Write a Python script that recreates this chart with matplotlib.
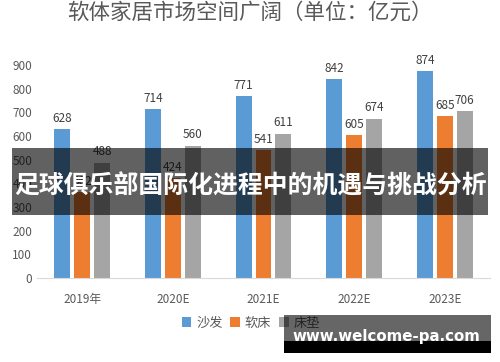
import matplotlib
matplotlib.use("Agg")
import matplotlib.pyplot as plt
import numpy as np
from matplotlib.patches import Rectangle

plt.rcParams['font.family'] = ['Noto Sans CJK SC', 'DejaVu Sans']

years = ["2019年", "2020E", "2021E", "2022E", "2023E"]
sofa = [628, 714, 771, 842, 874]
bed = [362, 424, 541, 605, 685]
mattress = [488, 560, 611, 674, 706]
series_names = ["沙发", "软床", "床垫"]
colors = ["#5B9BD5", "#ED7D31", "#A5A5A5"]

fig = plt.figure(figsize=(5, 3.62), dpi=100)
ax = fig.add_axes([0.074, 0.232, 0.906, 0.588])

x = np.arange(len(years))
w = 0.176
offsets = [-0.22, 0.0, 0.22]
for vals, name, c, off in zip([sofa, bed, mattress], series_names, colors, offsets):
    bars = ax.bar(x + off, vals, w, color=c, label=name)
    ax.bar_label(bars, padding=3, fontsize=8.5, color="#404040")

ax.set_xlim(-0.5, 4.5)
ax.set_ylim(0, 900)
ax.set_yticks(range(0, 901, 100))
ax.set_xticks(x)
ax.set_xticklabels(years)
ax.tick_params(axis="both", length=0, labelsize=8.5, labelcolor="#595959")
ax.tick_params(axis="x", pad=11)
for s in ["top", "right", "left"]:
    ax.spines[s].set_visible(False)
ax.spines["bottom"].set_color("#d9d9d9")

fig.text(0.5, 1 - 13 / 362, "软体家居市场空间广阔（单位：亿元）", ha="center", va="center",
         fontsize=15.5, color="#595959")

ax.legend(loc="center", bbox_to_anchor=(0.502, 1 - 323 / 362), bbox_transform=fig.transFigure,
          ncol=3, frameon=False, fontsize=9.5, labelcolor="#595959", handlelength=0.7,
          handleheight=0.7, handletextpad=0.4, columnspacing=0.6)

# overlay banner
fig.add_artist(Rectangle((0.024, 0.406), 0.952, 0.185, transform=fig.transFigure,
                         facecolor="black", alpha=0.62, zorder=10))
fig.text(0.5, 1 - 186 / 362, "足球俱乐部国际化进程中的机遇与挑战分析", ha="center", va="center",
         fontsize=17.9, fontweight="bold", color="white", zorder=11)

# watermark
fig.add_artist(Rectangle((0.568, 1 - 341 / 362), 0.414, 26 / 362, transform=fig.transFigure,
                         facecolor="black", alpha=0.6, zorder=10))
fig.add_artist(Rectangle((0.568, 1 - 353 / 362), 0.414, 12 / 362, transform=fig.transFigure,
                         facecolor="black", zorder=10))
fig.text(0.773, 1 - 336 / 362, "www.welcome-pa.com", ha="center", va="center",
         fontsize=10.8, fontweight="bold", color="white", family="DejaVu Sans", zorder=11)

fig.savefig("out.png", dpi=100)
